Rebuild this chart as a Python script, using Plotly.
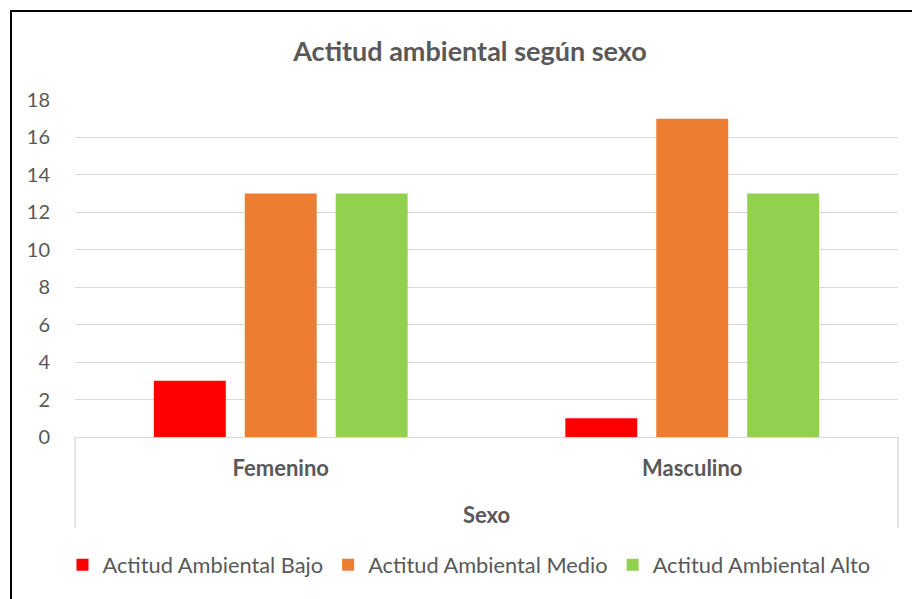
import plotly.graph_objects as go

# datos
sexo = ["Femenino", "Masculino"]
bajo = [3, 1]
medio = [13, 17]
alto = [13, 13]

series = [
    ("Actitud Ambiental Bajo", bajo, "#FF0000"),
    ("Actitud Ambiental Medio", medio, "#ED7D31"),
    ("Actitud Ambiental Alto", alto, "#92D050"),
]

FONT = "Lato, Open Sans, Arial, sans-serif"
GREY_TXT = "#595959"
GRID = "#d9d9d9"

fig = go.Figure()
for name, vals, color in series:
    fig.add_trace(go.Bar(x=sexo, y=vals, name=name, marker=dict(color=color, line=dict(width=0))))

# la página tiene 8px de margen en el body, así que todo se corre 8px
OFF = 8
W, H = 920 - OFF, 599 - OFF
# área de trazado en px de la referencia: x 75..898, y 100..437
L, T = 75 - OFF, 100 - OFF
R = W - (898 - OFF)
B = H - (437 - OFF)
pw, ph = W - L - R, H - T - B


def px_x(x):
    return (x - OFF - L) / pw


def px_y(y):
    return (H - B - (y - OFF)) / ph


fig.update_layout(
    width=W,
    height=H,
    margin=dict(l=L, r=R, t=T, b=B),
    paper_bgcolor="white",
    plot_bgcolor="white",
    font=dict(family=FONT, color=GREY_TXT),
    barmode="group",
    bargap=0.337,
    bargroupgap=0.209,
    title=dict(
        text="Actitud ambiental según sexo",
        font=dict(size=27, color=GREY_TXT, family=FONT, weight="bold"),
        x=(470 - OFF) / W,
        xanchor="center",
        y=1 - (52 - OFF) / H,
        yanchor="middle",
    ),
    legend=dict(
        orientation="h",
        x=px_x(469),
        xanchor="center",
        y=px_y(565),
        yanchor="middle",
        font=dict(size=21.8, color=GREY_TXT, family=FONT),
        itemwidth=30,
        traceorder="normal",
    ),
    showlegend=True,
)

fig.update_yaxes(
    range=[0, 18],
    dtick=2,
    showgrid=True,
    gridcolor=GRID,
    gridwidth=1.3,
    zeroline=False,
    showline=False,
    ticks="outside",
    ticklen=20,
    tickcolor="rgba(0,0,0,0)",
    tickfont=dict(size=20, color=GREY_TXT, family=FONT),
)

fig.update_xaxes(
    showgrid=False,
    showline=True,
    linecolor=GRID,
    linewidth=1.3,
    ticks="outside",
    ticklen=11,
    tickcolor="rgba(0,0,0,0)",
    tickfont=dict(size=22, color=GREY_TXT, family=FONT, weight="bold"),
    title=dict(text="Sexo", font=dict(size=22, color=GREY_TXT, family=FONT, weight="bold"), standoff=28),
)

# caja del eje de categorías
for xv in (0, 1):
    fig.add_shape(
        type="line", xref="paper", yref="paper",
        x0=xv, x1=xv, y0=0, y1=px_y(528),
        line=dict(color=GRID, width=1.3),
    )

# borde negro del gráfico
fig.add_shape(
    type="rect", xref="paper", yref="paper",
    x0=px_x(11), x1=px_x(940), y0=px_y(640), y1=px_y(11),
    line=dict(color="black", width=2),
    fillcolor="rgba(0,0,0,0)",
)

fig.write_html("out.html")
